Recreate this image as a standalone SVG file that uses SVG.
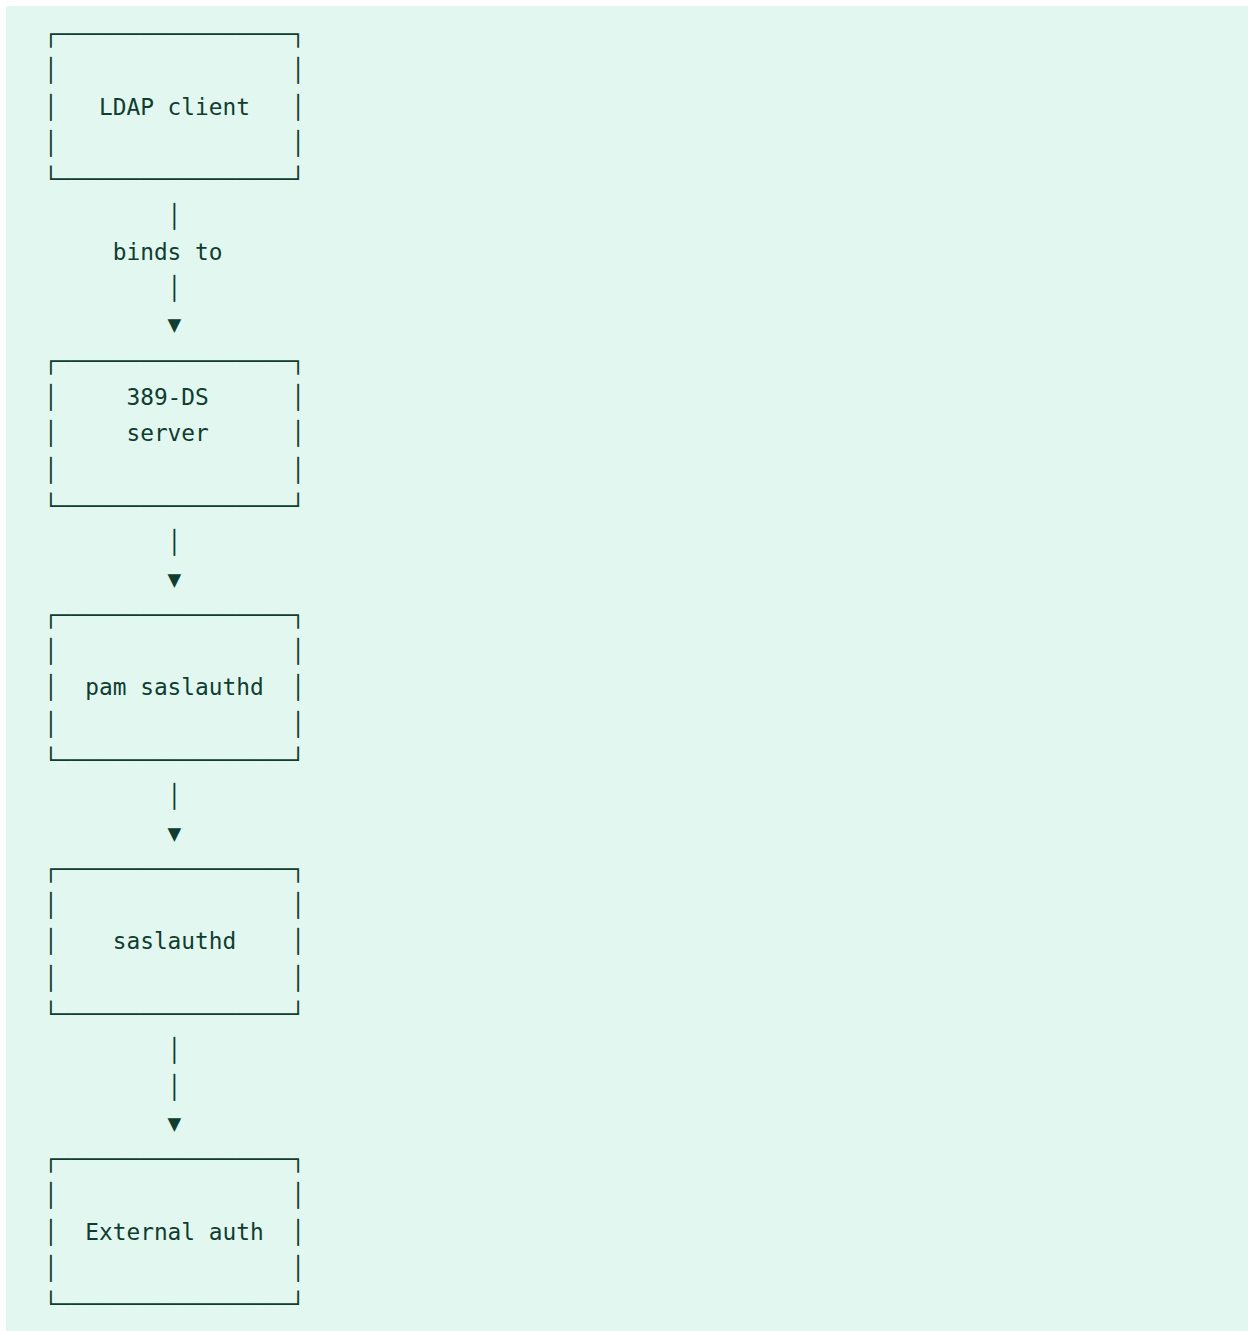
<svg xmlns="http://www.w3.org/2000/svg" width="1254" height="1331" viewBox="0 0 1254 1331">
<style>
.t{font-family:"DejaVu Sans Mono","Liberation Mono",monospace;font-size:22.8px;fill:#0f3d30;white-space:pre}
</style>
<rect x="0" y="0" width="1254" height="1331" fill="#ffffff"/>
<rect x="6" y="6" width="1242" height="1325" fill="#e2f7ef"/>
<g transform="translate(0,-0.8)">
<g id="ldap-client">
<text class="t" x="44.1" y="43" xml:space="preserve">┌─────────────────┐</text>
<text class="t" x="44.1" y="79.3" xml:space="preserve">│                 │</text>
<text class="t" x="44.1" y="115.6" xml:space="preserve">│   LDAP client   │</text>
<text class="t" x="44.1" y="151.9" xml:space="preserve">│                 │</text>
<text class="t" x="44.1" y="188.2" xml:space="preserve">└─────────────────┘</text>
</g>
<g id="ds-server">
<text class="t" x="44.1" y="369.6" xml:space="preserve">┌─────────────────┐</text>
<text class="t" x="44.1" y="405.9" xml:space="preserve">│     389-DS      │</text>
<text class="t" x="44.1" y="442.2" xml:space="preserve">│     server      │</text>
<text class="t" x="44.1" y="478.5" xml:space="preserve">│                 │</text>
<text class="t" x="44.1" y="514.8" xml:space="preserve">└─────────────────┘</text>
</g>
<g id="pam-saslauthd">
<text class="t" x="44.1" y="623.6" xml:space="preserve">┌─────────────────┐</text>
<text class="t" x="44.1" y="659.9" xml:space="preserve">│                 │</text>
<text class="t" x="44.1" y="696.2" xml:space="preserve">│  pam saslauthd  │</text>
<text class="t" x="44.1" y="732.5" xml:space="preserve">│                 │</text>
<text class="t" x="44.1" y="768.8" xml:space="preserve">└─────────────────┘</text>
</g>
<g id="saslauthd">
<text class="t" x="44.1" y="877.7" xml:space="preserve">┌─────────────────┐</text>
<text class="t" x="44.1" y="914.0" xml:space="preserve">│                 │</text>
<text class="t" x="44.1" y="950.3" xml:space="preserve">│    saslauthd    │</text>
<text class="t" x="44.1" y="986.5" xml:space="preserve">│                 │</text>
<text class="t" x="44.1" y="1022.8" xml:space="preserve">└─────────────────┘</text>
</g>
<g id="external-auth">
<text class="t" x="44.1" y="1168.0" xml:space="preserve">┌─────────────────┐</text>
<text class="t" x="44.1" y="1204.3" xml:space="preserve">│                 │</text>
<text class="t" x="44.1" y="1240.6" xml:space="preserve">│  External auth  │</text>
<text class="t" x="44.1" y="1276.9" xml:space="preserve">│                 │</text>
<text class="t" x="44.1" y="1313.2" xml:space="preserve">└─────────────────┘</text>
</g>
<g id="connectors">
<text class="t" x="44.1" y="224.5" xml:space="preserve">         │</text>
<text class="t" x="44.1" y="260.7" xml:space="preserve">     binds to</text>
<text class="t" x="44.1" y="297.0" xml:space="preserve">         │</text>
<text class="t" x="44.1" y="333.3" xml:space="preserve">         ▼</text>
<text class="t" x="44.1" y="551.1" xml:space="preserve">         │</text>
<text class="t" x="44.1" y="587.4" xml:space="preserve">         ▼</text>
<text class="t" x="44.1" y="805.1" xml:space="preserve">         │</text>
<text class="t" x="44.1" y="841.4" xml:space="preserve">         ▼</text>
<text class="t" x="44.1" y="1059.1" xml:space="preserve">         │</text>
<text class="t" x="44.1" y="1095.4" xml:space="preserve">         │</text>
<text class="t" x="44.1" y="1131.7" xml:space="preserve">         ▼</text>
</g>
</g>
</svg>
